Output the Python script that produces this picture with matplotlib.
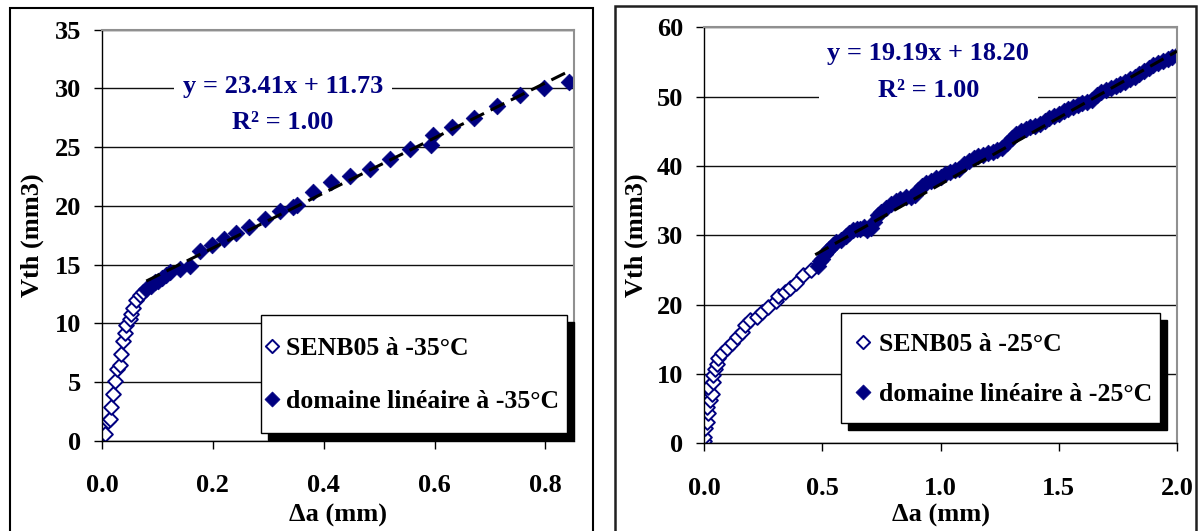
import matplotlib.pyplot as plt
from matplotlib.patches import Rectangle
import numpy as np

plt.rcParams['font.family'] = ['Liberation Serif', 'DejaVu Serif']
plt.rcParams['font.weight'] = 'bold'

NAVY = '#000080'

# ---- SENB05 at -35 C ----
x35_senb = [0.006, 0.010, 0.014, 0.017, 0.020, 0.023, 0.028, 0.032, 0.035,
            0.038, 0.041, 0.044, 0.050, 0.053, 0.056, 0.062, 0.068, 0.074]
v35_senb = [0.6, 1.7, 1.9, 2.9, 4.0, 5.1, 6.1, 6.5, 7.4,
            8.5, 9.2, 9.9, 10.4, 10.8, 11.3, 12.0, 12.4, 12.7]
x35_lin = [0.080, 0.088, 0.095, 0.102, 0.108, 0.115, 0.122, 0.140, 0.158,
           0.176, 0.198, 0.220, 0.242, 0.266, 0.294, 0.321, 0.345, 0.352,
           0.381, 0.414, 0.447, 0.483, 0.520, 0.556, 0.593, 0.598, 0.632,
           0.671, 0.712, 0.755, 0.798, 0.843]
v35_lin = [12.9, 13.2, 13.5, 13.6, 13.9, 14.1, 14.4, 14.6, 14.9,
           16.2, 16.7, 17.2, 17.7, 18.2, 18.9, 19.6, 19.9, 20.1,
           21.2, 22.0, 22.5, 23.1, 24.0, 24.8, 25.2, 26.0, 26.7,
           27.5, 28.5, 29.4, 30.0, 30.5]
fit35 = (23.41, 11.73)
fit35_x = (0.08, 0.845)

# ---- SENB05 at -25 C ----
x25_senb = [0.000, 0.000, 0.004, 0.011, 0.018, 0.011, 0.025, 0.032, 0.018,
            0.037, 0.039, 0.046, 0.053, 0.060, 0.075, 0.096, 0.117, 0.138,
            0.159, 0.173, 0.194, 0.222, 0.243, 0.271, 0.306, 0.313, 0.341,
            0.362, 0.390, 0.418, 0.454]
v25_senb = [0.3, 1.0, 2.2, 3.1, 4.4, 5.3, 6.3, 7.2, 8.2,
            8.9, 9.9, 10.7, 11.5, 12.3, 13.0, 13.7, 14.5, 15.3,
            16.1, 17.1, 17.8, 18.3, 19.0, 19.7, 20.5, 21.2, 21.9,
            22.4, 23.2, 24.3, 25.0]
x25_lin = [0.48, 0.49, 0.50, 0.51, 0.52, 0.53, 0.545, 0.56, 0.58, 0.60,
           0.615, 0.63, 0.645, 0.66, 0.675, 0.69, 0.705, 0.72, 0.735, 0.75,
           0.77, 0.79, 0.81, 0.83, 0.855, 0.875, 0.89, 0.905, 0.92, 0.94,
           0.96, 0.98, 1.00, 1.02, 1.04, 1.06, 1.08, 1.10, 1.12, 1.14,
           1.16, 1.18, 1.20, 1.22, 1.24, 1.26, 1.28, 1.30, 1.32, 1.34,
           1.36, 1.38, 1.40, 1.42, 1.44, 1.46, 1.48, 1.50, 1.52, 1.54,
           1.56, 1.58, 1.60, 1.62, 1.64, 1.66, 1.68, 1.70, 1.72, 1.74,
           1.76, 1.78, 1.80, 1.82, 1.84, 1.86, 1.88, 1.90, 1.92, 1.94,
           1.96, 1.98, 2.00]
v25_lin = [25.6, 26.3, 26.6, 27.3, 27.8, 28.0, 28.6, 29.0, 29.4, 29.9,
           30.3, 30.8, 30.9, 31.0, 31.2, 30.8, 31.1, 32.0, 32.9, 33.4,
           34.0, 34.6, 34.9, 35.2, 35.6, 35.5, 35.8, 36.6, 37.1, 37.6,
           37.9, 38.3, 38.5, 38.8, 39.1, 39.4, 39.6, 40.3, 40.8, 41.2,
           41.4, 41.6, 41.9, 42.1, 42.3, 42.6, 43.3, 44.0, 44.6, 45.0,
           45.3, 45.6, 45.8, 46.1, 46.5, 46.9, 47.2, 47.5, 47.9, 48.2,
           48.5, 48.8, 49.1, 49.3, 49.6, 50.2, 50.7, 51.0, 51.3, 51.6,
           51.9, 52.2, 52.5, 52.9, 53.3, 53.7, 54.1, 54.6, 54.9, 55.2,
           55.5, 55.8, 56.0]
fit25 = (19.19, 18.20)
fit25_x = (0.47, 2.0)

FS = 19


def panel(ax, xs, vs, xl, vl, fit, fitx, temp, xmax, ymax, ystep, xticks,
          txt_pos, leg_anchor, leg_opts):
    ax.set_axisbelow(True)
    ax.grid(axis='y', color='#101010', linewidth=1.0)
    ax.scatter(xs, vs, marker='D', s=7.5 ** 2, facecolors='white',
               edgecolors=NAVY, linewidths=1.4,
               label='SENB05 à %s°C' % temp, zorder=2)
    ax.scatter(xl, vl, marker='D', s=8.5 ** 2, facecolors=NAVY,
               edgecolors=NAVY, linewidths=0.5,
               label='domaine linéaire à %s°C' % temp, zorder=2.1)
    fx = np.array(fitx)
    ax.plot(fx, fit[0] * fx + fit[1], color='black', linewidth=2.2,
            dashes=(5, 2.4), zorder=3)
    ax.set_xlim(0, xmax)
    ax.set_ylim(0, ymax)
    ax.set_yticks(np.arange(0, ymax + 1, ystep))
    ax.set_xticks(xticks)
    ax.set_xticklabels(['%.1f' % t for t in xticks])
    ax.tick_params(axis='both', direction='out', length=6, width=1,
                   labelsize=FS, colors='black')
    ax.tick_params(axis='x', pad=18)
    ax.tick_params(axis='y', pad=9)
    for s in ('top', 'right'):
        ax.spines[s].set_color('#909090')
        ax.spines[s].set_linewidth(1.5)
    for s in ('left', 'bottom'):
        ax.spines[s].set_color('black')
        ax.spines[s].set_linewidth(1.0)
    ax.set_xlabel('Δa (mm)', fontsize=FS, fontweight='bold')
    ax.set_ylabel('Vth (mm3)', fontsize=FS, fontweight='bold')
    ax.text(txt_pos[0], txt_pos[1],
            'y = %.2fx + %.2f\nR² = 1.00' % fit,
            transform=ax.transAxes, ha='center', va='center',
            multialignment='center', linespacing=1.75,
            color=NAVY, fontsize=FS, fontweight='bold', zorder=2.6,
            bbox=dict(boxstyle='square,pad=0.33', facecolor='white',
                      edgecolor='none'))
    leg = ax.legend(loc='lower right', bbox_to_anchor=leg_anchor,
                    borderaxespad=0, frameon=True,
                    prop={'size': 18.5, 'weight': 'bold'},
                    fancybox=False, framealpha=1, edgecolor='black',
                    borderpad=0.3, scatterpoints=1, markerscale=0.9,
                    shadow={'ox': 5, 'oy': -5, 'color': 'black', 'alpha': 1},
                    **leg_opts)
    leg.get_frame().set_linewidth(1.0)
    return ax


fig = plt.figure(figsize=(12.01, 5.31), dpi=100)

ax1 = fig.add_axes([0.0849, 0.1695, 0.3932, 0.7749])
panel(ax1, x35_senb, v35_senb, x35_lin, v35_lin, fit35, fit35_x, '-35',
      0.852, 35, 5, [0.0, 0.2, 0.4, 0.6, 0.8], (0.383, 0.818),
      (0.985, 0.02),
      dict(handlelength=0.25, handletextpad=0.45, labelspacing=0.13,
           handleheight=2.6, scatteryoffsets=[0.18]))
ax1.yaxis.set_label_coords(-0.123, 0.5)
ax1.xaxis.set_label_coords(0.5, -0.152)

ax2 = fig.add_axes([0.5862, 0.1648, 0.3939, 0.7835])
panel(ax2, x25_senb, v25_senb, x25_lin, v25_lin, fit25, fit25_x, '-25',
      2.0, 60, 10, [0.0, 0.5, 1.0, 1.5, 2.0], (0.474, 0.893),
      (0.964, 0.05),
      dict(handlelength=1.15, handletextpad=0.05, labelspacing=0.3,
           handleheight=2.2, scatteryoffsets=[0.21]))
ax2.yaxis.set_label_coords(-0.118, 0.5)
ax2.xaxis.set_label_coords(0.5, -0.146)

# outer chart frames
fig.patches.append(Rectangle((9.5 / 1201, -0.05), 583 / 1201, 0.984 + 0.05,
                             transform=fig.transFigure, fill=False,
                             edgecolor='black', linewidth=1.5))
fig.patches.append(Rectangle((614.5 / 1201, -0.05), 581 / 1201, 0.9887 + 0.05,
                             transform=fig.transFigure, fill=False,
                             edgecolor='#202020', linewidth=1.8))

fig.savefig('out.png', dpi=100)
